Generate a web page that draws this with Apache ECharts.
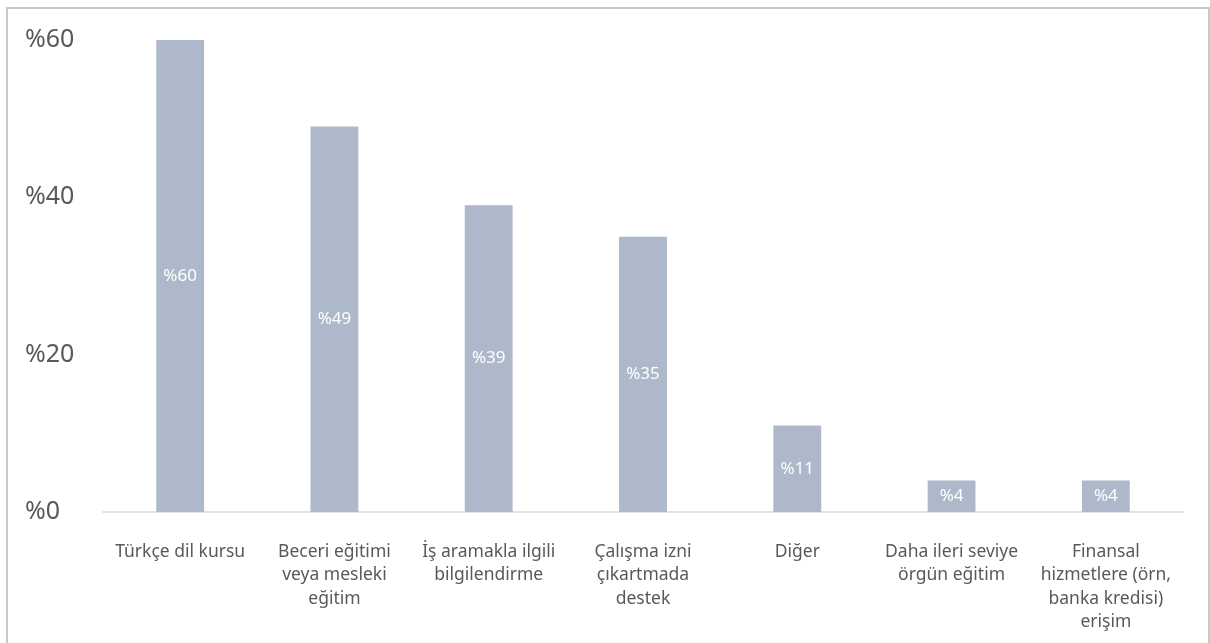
<!DOCTYPE html>
<html>
<head>
<meta charset="utf-8">
<script src="https://cdn.jsdelivr.net/npm/echarts@6/dist/echarts.min.js"></script>
<style>
html,body{margin:0;padding:0;background:#fff;}
#chart{width:1210px;height:643px;}
</style>
</head>
<body>
<div id="chart"></div>
<script>
var categories = [
  "Türkçe dil kursu",
  "Beceri eğitimi\nveya mesleki\neğitim",
  "İş aramakla ilgili\nbilgilendirme",
  "Çalışma izni\nçıkartmada\ndestek",
  "Diğer",
  "Daha ileri seviye\nörgün eğitim",
  "Finansal\nhizmetlere (örn,\nbanka kredisi)\nerişim"
];
var values = [60, 49, 39, 35, 11, 4, 4];
var yTicks = [0, 20, 40, 60];

var chart = echarts.init(document.getElementById('chart'), null, {renderer: 'canvas'});
var font = '"Noto Sans", "Open Sans", sans-serif';
chart.setOption({
  animation: false,
  backgroundColor: '#ffffff',
  graphic: [{
    type: 'rect',
    shape: {x: 7, y: 8, width: 1202, height: 700},
    style: {fill: 'none', stroke: '#c9c9c9', lineWidth: 2},
    silent: true
  }],
  grid: {left: 103, right: 27, top: 40, bottom: 131},
  xAxis: {
    type: 'category',
    data: categories,
    axisLine: {show: true, lineStyle: {color: '#d9d9d9', width: 1.5}},
    axisTick: {show: false},
    axisLabel: {
      interval: 0,
      color: '#595959',
      fontFamily: font,
      fontSize: 17.5,
      lineHeight: 23.5,
      margin: 28
    }
  },
  yAxis: {
    type: 'value',
    min: 0,
    max: 60,
    interval: 20,
    splitLine: {show: false},
    axisLine: {show: false},
    axisTick: {show: false},
    axisLabel: {
      color: '#595959',
      fontFamily: font,
      fontSize: 25,
      align: 'left',
      margin: 78,
      formatter: function (v) { return yTicks.indexOf(v) >= 0 ? '%' + v : ''; }
    }
  },
  series: [{
    type: 'bar',
    data: values,
    barWidth: '31%',
    itemStyle: {color: '#adb9ca'},
    label: {
      show: true,
      position: 'inside',
      color: '#ffffff',
      fontFamily: font,
      fontSize: 17,
      formatter: function (p) { return '%' + p.value; }
    }
  }]
});
</script>
</body>
</html>
